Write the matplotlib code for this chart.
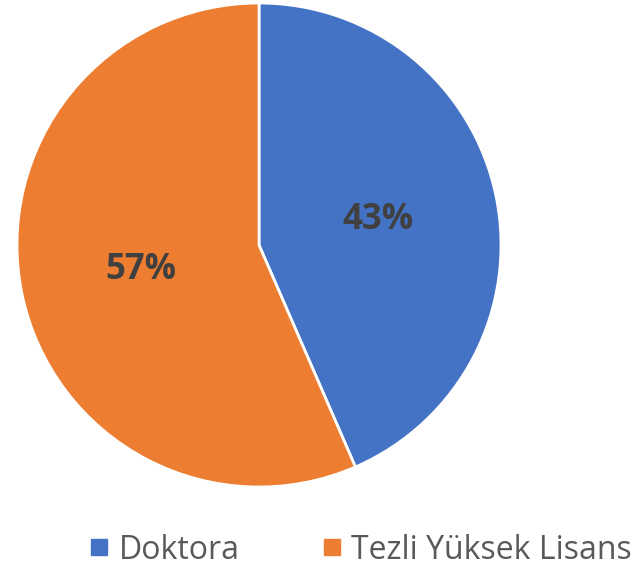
import matplotlib

matplotlib.use("Agg")
import matplotlib.pyplot as plt  # noqa: E402
from matplotlib.lines import Line2D  # noqa: E402

labels = ["Doktora", "Tezli Yüksek Lisans"]
counts = [10, 13]
colors = ["#4472C4", "#ED7D31"]

plt.rcParams["font.family"] = ["Open Sans", "DejaVu Sans"]

fig = plt.figure(figsize=(6.39, 5.70), dpi=100)
ax = fig.add_axes([0, 0, 1, 1])

wedges, texts, autotexts = ax.pie(
    counts,
    colors=colors,
    startangle=90,
    counterclock=False,
    center=(259, 325),
    radius=242,
    autopct="%.0f%%",
    pctdistance=0.5,
    wedgeprops=dict(edgecolor="white", linewidth=2),
    frame=True,
)
ax.set_xlim(0, 639)
ax.set_ylim(0, 570)
ax.set_aspect("equal")
ax.axis("off")
for t in autotexts:
    t.set_fontsize(25)
    t.set_fontweight("bold")
    t.set_color("#404040")

handles = [
    Line2D([], [], marker="s", ls="none", markersize=11.5, markerfacecolor=c, markeredgecolor=c)
    for c in colors
]
fig.legend(
    handles,
    labels,
    loc="center",
    bbox_to_anchor=(0.565, 0.035),
    ncol=2,
    frameon=False,
    fontsize=23,
    labelcolor="#595959",
    handletextpad=0.3,
    columnspacing=2.6,
    handlelength=0.6,
    borderpad=0,
)

fig.savefig("out.png", dpi=100)
